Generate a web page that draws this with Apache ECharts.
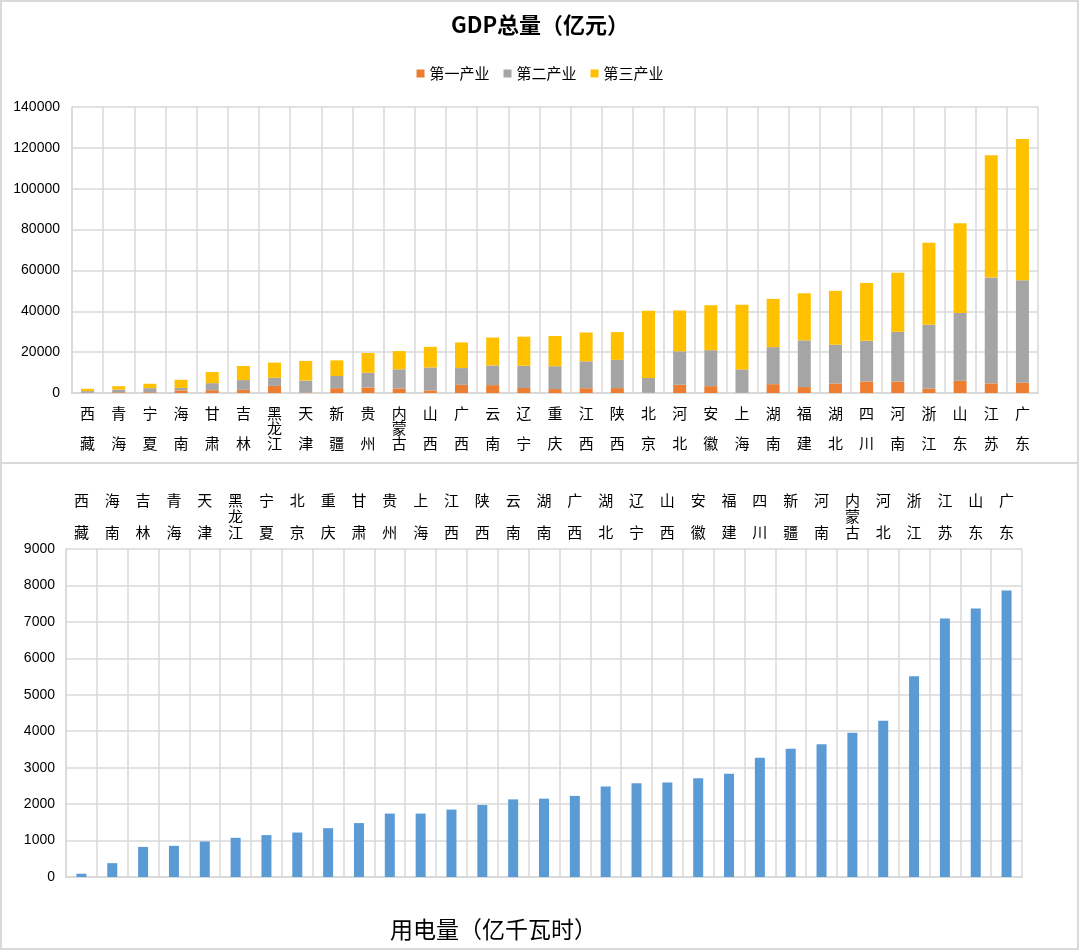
<!DOCTYPE html>
<html>
<head>
<meta charset="utf-8">
<script src="https://cdn.jsdelivr.net/npm/echarts@6/dist/echarts.min.js"></script>
<style>
html, body { margin: 0; padding: 0; background: #fff; }
#main { width: 1080px; height: 952px; }
</style>
</head>
<body>
<div id="main"></div>
<script>
// GDP 总量（亿元）, 按总量升序
var gdpProvinces = ['西藏','青海','宁夏','海南','甘肃','吉林','黑龙江','天津','新疆','贵州','内蒙古','山西','广西','云南','辽宁','重庆','江西','陕西','北京','河北','安徽','上海','湖南','福建','湖北','四川','河南','浙江','山东','江苏','广东'];
var primary   = [164, 352, 364, 1254, 1364, 1553, 3463, 226, 2356, 2730, 2225, 1286, 4016, 3870, 2462, 1922, 2335, 2409, 111, 4030, 3360, 100, 4323, 2898, 4661, 5661, 5621, 2209, 6029, 4722, 5004];
var secondary = [757, 1332, 2022, 1238, 3467, 4768, 3976, 5855, 5967, 7161, 9374, 11213, 8188, 9590, 10876, 11185, 13184, 13802, 7269, 16364, 17613, 11449, 18127, 22866, 18952, 19901, 24331, 31189, 33187, 51775, 50219];
var tertiary  = [1159, 1662, 2136, 3983, 5412, 6915, 7440, 9615, 7661, 9695, 8915, 10091, 12537, 13687, 14246, 14787, 14101, 13590, 32890, 19998, 21986, 31666, 23613, 23046, 26400, 28289, 28935, 40118, 43880, 59867, 69147];

// 用电量（亿千瓦时）
var powerProvinces = ['西藏','海南','吉林','青海','天津','黑龙江','宁夏','北京','重庆','甘肃','贵州','上海','江西','陕西','云南','湖南','广西','湖北','辽宁','山西','安徽','福建','四川','新疆','河南','内蒙古','河北','浙江','江苏','山东','广东'];
var power = [90, 380, 825, 855, 975, 1075, 1150, 1220, 1340, 1480, 1740, 1740, 1850, 1975, 2130, 2150, 2225, 2480, 2570, 2590, 2710, 2830, 3270, 3520, 3640, 3960, 4290, 5510, 7090, 7370, 7860];

var gdpTicks = [0, 140000, 20000];
var powerTicks = [0, 9000, 1000];

var gridColor = '#d9d9d9';
var cjk = '"Noto Sans CJK SC", sans-serif';

// 竖排省名：两字隔行，三字挤在同样高度里
function vertName(v) {
    var chars = v.split('');
    var key = chars.length > 2 ? 's' : 'n';
    return chars.map(function (c) { return '{' + key + '|' + c + '}'; }).join('\n');
}
function plain(v) { return String(v); }

var chart = echarts.init(document.getElementById('main'));

var option = {
    backgroundColor: '#fff',
    animation: false,
    title: [
        {
            text: 'GDP总量（亿元）',
            left: 'center',
            top: 9,
            textStyle: { fontFamily: cjk, fontSize: 22, fontWeight: 'bold', color: '#000' }
        },
        {
            text: '用电量（亿千瓦时）',
            left: 385,
            top: 913,
            textStyle: { fontFamily: cjk, fontSize: 23, fontWeight: 'normal', color: '#000' }
        }
    ],
    legend: {
        data: ['第一产业', '第二产业', '第三产业'],
        top: 61,
        left: 'center',
        itemWidth: 8,
        itemHeight: 8,
        itemGap: 14,
        icon: 'rect',
        textStyle: { fontFamily: cjk, fontSize: 15, color: '#000' }
    },
    graphic: [
        {
            type: 'rect',
            shape: { x: 1, y: 1, width: 1077, height: 948 },
            style: { fill: 'none', stroke: gridColor, lineWidth: 2 },
            silent: true
        },
        {
            type: 'line',
            shape: { x1: 1, y1: 463, x2: 1078, y2: 463 },
            style: { stroke: gridColor, lineWidth: 2 },
            silent: true
        }
    ],
    grid: [
        { left: 72, right: 42, top: 107, height: 286 },
        { left: 66, right: 58, top: 549, height: 328 }
    ],
    xAxis: [
        {
            type: 'category',
            gridIndex: 0,
            data: gdpProvinces,
            axisLine: { lineStyle: { color: gridColor, width: 2 } },
            axisTick: { show: false },
            splitLine: { show: true, interval: 0, lineStyle: { color: gridColor, width: 1.5 } },
            axisLabel: {
                interval: 0,
                margin: 35,
                verticalAlign: 'middle',
                formatter: vertName,
                rich: {
                    n: { fontFamily: cjk, fontSize: 15, lineHeight: 30, color: '#000' },
                    s: { fontFamily: cjk, fontSize: 15, lineHeight: 15, color: '#000' }
                }
            }
        },
        {
            type: 'category',
            gridIndex: 1,
            position: 'top',
            data: powerProvinces,
            axisLine: { lineStyle: { color: gridColor, width: 2 } },
            axisTick: { show: false },
            splitLine: { show: true, interval: 0, lineStyle: { color: gridColor, width: 1.5 } },
            axisLabel: {
                interval: 0,
                margin: 33,
                verticalAlign: 'middle',
                formatter: vertName,
                rich: {
                    n: { fontFamily: cjk, fontSize: 15, lineHeight: 32, color: '#000' },
                    s: { fontFamily: cjk, fontSize: 15, lineHeight: 16, color: '#000' }
                }
            }
        }
    ],
    yAxis: [
        {
            type: 'value',
            gridIndex: 0,
            min: gdpTicks[0],
            max: gdpTicks[1],
            interval: gdpTicks[2],
            axisLine: { show: true, lineStyle: { color: gridColor, width: 1.5 } },
            axisTick: { show: false },
            splitLine: { lineStyle: { color: gridColor, width: 1.5 } },
            axisLabel: { margin: 12, formatter: plain, fontFamily: '"Liberation Sans", Arial', fontSize: 14, color: '#000' }
        },
        {
            type: 'value',
            gridIndex: 1,
            min: powerTicks[0],
            max: powerTicks[1],
            interval: powerTicks[2],
            axisLine: { show: true, lineStyle: { color: gridColor, width: 1.5 } },
            axisTick: { show: false },
            splitLine: { lineStyle: { color: gridColor, width: 1.5 } },
            axisLabel: { margin: 11, formatter: plain, fontFamily: '"Liberation Sans", Arial', fontSize: 14, color: '#000' }
        }
    ],
    series: [
        {
            name: '第一产业',
            type: 'bar',
            stack: 'gdp',
            xAxisIndex: 0,
            yAxisIndex: 0,
            barWidth: 13,
            itemStyle: { color: '#ED7D31' },
            data: primary
        },
        {
            name: '第二产业',
            type: 'bar',
            stack: 'gdp',
            xAxisIndex: 0,
            yAxisIndex: 0,
            barWidth: 13,
            itemStyle: { color: '#A5A5A5' },
            data: secondary
        },
        {
            name: '第三产业',
            type: 'bar',
            stack: 'gdp',
            xAxisIndex: 0,
            yAxisIndex: 0,
            barWidth: 13,
            itemStyle: { color: '#FFC000' },
            data: tertiary
        },
        {
            name: '用电量',
            type: 'bar',
            xAxisIndex: 1,
            yAxisIndex: 1,
            barWidth: 10,
            itemStyle: { color: '#5B9BD5' },
            data: power
        }
    ]
};

chart.setOption(option);
</script>
</body>
</html>
